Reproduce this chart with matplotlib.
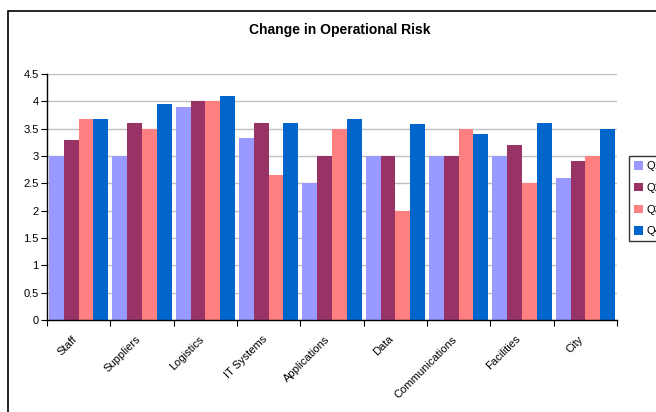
import numpy as np
import matplotlib
matplotlib.use('Agg')
import matplotlib.pyplot as plt
from matplotlib.patches import Rectangle

plt.rcParams['font.family'] = ['Liberation Sans', 'DejaVu Sans']

categorias = ['Staff', 'Suppliers', 'Logistics', 'IT Systems', 'Applications',
              'Data', 'Communications', 'Facilities', 'City']
trimestres = ['Q1', 'Q2', 'Q3', 'Q4']
q1 = [3.0, 3.0, 3.9, 3.33, 2.5, 3.0, 3.0, 3.0, 2.6]
q2 = [3.3, 3.6, 4.0, 3.6, 3.0, 3.0, 3.0, 3.2, 2.9]
q3 = [3.68, 3.5, 4.0, 2.65, 3.5, 2.0, 3.5, 2.5, 3.0]
q4 = [3.68, 3.95, 4.1, 3.6, 3.68, 3.58, 3.4, 3.6, 3.5]
cores = ['#9999FF', '#993366', '#FF8080', '#0066CC']

fig = plt.figure(figsize=(6.56, 4.12), dpi=100)
W, H = 656, 412

# moldura da area do grafico (sai pela direita e por baixo)
fig.patches.append(Rectangle((8 / W, -0.1), 1.2, 1 - 11 / H + 0.1,
                             transform=fig.transFigure, fill=False,
                             edgecolor='black', linewidth=1.2))

ax = fig.add_axes([47 / W, 1 - 320 / H, 570 / W, 246 / H])

x = np.arange(len(categorias))
larg = 0.233
for i, (serie, cor) in enumerate(zip([q1, q2, q3, q4], cores)):
    ax.bar(x + (i - 1.5) * larg, serie, width=larg, color=cor,
           label=trimestres[i], zorder=2)

ax.set_xlim(-0.5, len(categorias) - 0.5)
ax.set_ylim(0, 4.5)
ax.set_yticks(np.arange(0, 4.51, 0.5))
ax.set_yticklabels(['0', '0.5', '1', '1.5', '2', '2.5', '3', '3.5', '4', '4.5'])
ax.yaxis.grid(True, color='#C0C0C0', linewidth=1, zorder=0)
ax.set_axisbelow(True)

# marcas nas divisas das categorias, rotulos no centro
ax.set_xticks(np.arange(-0.5, len(categorias), 1))
ax.set_xticklabels([])
ax.set_xticks(x, minor=True)
ax.set_xticklabels(categorias, minor=True, rotation=45, ha='right',
                   fontsize=8)
ax.tick_params(axis='x', which='minor', length=0, pad=10)
ax.tick_params(axis='x', which='major', length=4, direction='out')
ax.tick_params(axis='y', length=4, direction='out', labelsize=8, pad=2)

for lado in ['top', 'right']:
    ax.spines[lado].set_visible(False)
ax.spines['left'].set_linewidth(1)
ax.spines['bottom'].set_linewidth(1)

fig.text(340 / W, 1 - 30 / H, 'Change in Operational Risk', ha='center',
         va='center', fontsize=10, fontweight='bold')

leg = fig.legend(loc='upper left', bbox_to_anchor=(629 / W, 1 - 156 / H),
                 borderaxespad=0, fontsize=8, frameon=True, fancybox=False,
                 edgecolor='black', handlelength=0.8, handleheight=0.8,
                 handletextpad=0.3, labelspacing=1.05, borderpad=0.45)
leg.get_frame().set_linewidth(1)

fig.savefig('out.png', dpi=100)
